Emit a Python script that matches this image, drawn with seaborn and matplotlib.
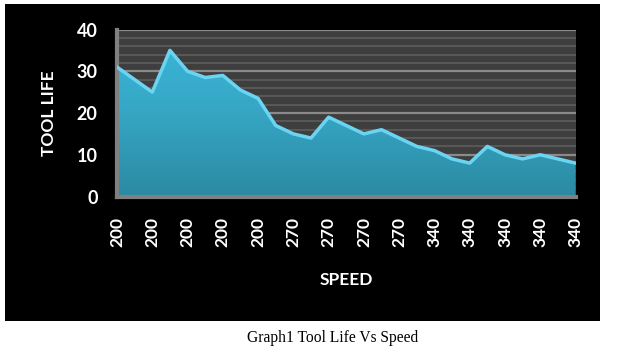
import numpy as np
import pandas as pd
import matplotlib
matplotlib.use("Agg")
import matplotlib.pyplot as plt
from matplotlib.patches import Rectangle
import seaborn as sns

# Tool life for each run
speed = [200, 200, 200, 200, 200, 200, 200, 200, 200,
         270, 270, 270, 270, 270, 270, 270, 270, 270,
         340, 340, 340, 340, 340, 340, 340, 340, 340]
tool_life = [31, 28, 25, 35, 30, 28.5, 29, 25.5, 23.5,
             17, 15, 14, 19, 17, 15, 16, 14, 12,
             11, 9, 8, 12, 10, 9, 10, 9, 8]
y_ticks = [0, 10, 20, 30, 40]

df = pd.DataFrame({"run": range(len(tool_life)), "speed": speed, "life": tool_life})

sns.set_style("dark")
plt.rcParams["font.family"] = ["Lato", "DejaVu Sans"]

fig = plt.figure(figsize=(6.2, 3.55), dpi=100)
fig.patch.set_facecolor("white")
# black chart box, drawn behind the axes
fig.patches.append(Rectangle((5 / 620, 1 - 321 / 355), 595 / 620, 317 / 355,
                             transform=fig.transFigure, facecolor="black",
                             edgecolor="none", zorder=-5))

ax = fig.add_axes([117 / 620, 1 - 196.5 / 355, 458.5 / 620, 167 / 355])
ax.set_zorder(2)
ax.set_facecolor("#3e3e3e")

# minor/major gridlines
for v in range(0, 41, 2):
    ax.axhline(v, color="#8a8a8a" if v % 10 == 0 else "#5a5a5a",
               lw=1.6 if v % 10 == 0 else 1.3, zorder=1)

# gradient area
poly = ax.fill_between(df["run"], df["life"], 0, color="none", zorder=2)
grad = np.linspace(0, 1, 256).reshape(-1, 1)
cmap = matplotlib.colors.LinearSegmentedColormap.from_list(
    "teal", ["#2b8aa2", "#36a6c4", "#3cb8dc"])
img = ax.imshow(grad, cmap=cmap, aspect="auto", origin="lower",
                extent=[0, len(tool_life) - 1, 0, 40], zorder=2)
img.set_clip_path(poly.get_paths()[0], transform=ax.transData)

sns.lineplot(data=df, x="run", y="life", color="#6bd4f2", lw=2.5, ax=ax, zorder=3)

ax.set_xlim(0, len(tool_life) - 1)
ax.set_ylim(0, 40)
ax.set_yticks(y_ticks)
ax.set_yticklabels([str(t) for t in y_ticks], color="white", fontsize=13,
                   fontweight="bold")
ax.set_xticks(df["run"][::2])
ax.set_xticklabels([str(s) for s in df["speed"][::2]], rotation=90,
                   color="white", fontsize=12.5, fontweight="bold")
ax.tick_params(axis="both", length=0)
ax.tick_params(axis="y", pad=14)
ax.tick_params(axis="x", pad=15)
ax.grid(False)

for side in ["top", "right"]:
    ax.spines[side].set_visible(False)
for side in ["left", "bottom"]:
    ax.spines[side].set_visible(True)
    ax.spines[side].set_color("#808080")
    ax.spines[side].set_linewidth(3)

ax.set_xlabel("SPEED", color="white", fontsize=12.5, fontweight="bold", labelpad=18)
ax.set_ylabel("TOOL LIFE", color="white", fontsize=12.5, fontweight="bold", labelpad=14)

fig.text(333 / 620, 1 - 338 / 355, "Graph1 Tool Life Vs Speed", ha="center",
         va="center", fontsize=11.2, family="Liberation Serif", color="black")

fig.savefig("out.png", dpi=100)
